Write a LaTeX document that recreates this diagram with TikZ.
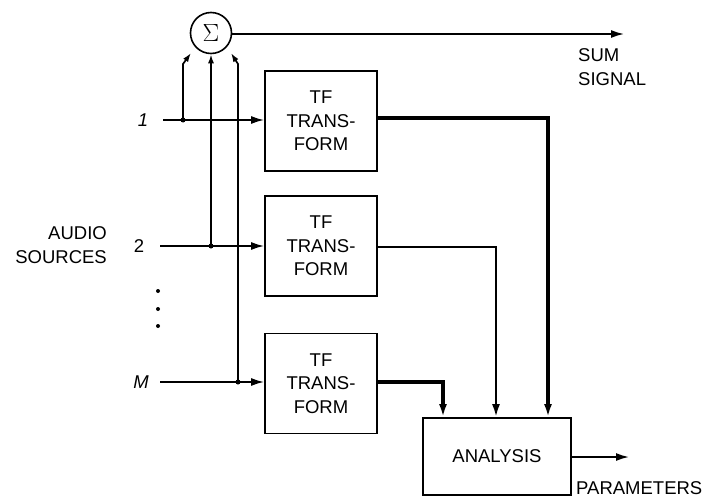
\documentclass[tikz,border=0pt]{standalone}
\usepackage{fontspec}
\setmainfont{Liberation Sans}
\usetikzlibrary{arrows.meta}
\begin{document}
\begin{tikzpicture}[x=1pt,y=-1pt,
  txt/.style={font=\fontsize{18.5}{23.5}\selectfont, align=center, inner sep=0pt},
  tfbox/.style={draw, line width=1.8pt, minimum width=112pt, minimum height=100pt, txt},
  ln/.style={line width=1.7pt},
  thickout/.style={line width=3.4pt},
  medout/.style={line width=2.3pt},
  arr/.style={-{Latex[length=13pt,width=8pt]}},
  sarr/.style={-{Latex[length=9pt,width=6pt]}},
  dotj/.style={circle, fill, inner sep=0pt, minimum size=5pt}]
\useasboundingbox (0,0) rectangle (711,503);
% sum circle
\node[draw, circle, line width=1.6pt, minimum size=41pt, inner sep=0pt] (sig) at (211,33) {\fontsize{28}{28}\selectfont$\Sigma$};
% boxes
\node[tfbox] (b1) at (321,121) {TF\\TRANS-\\FORM};
\node[tfbox] (b2) at (321,246) {TF\\TRANS-\\FORM};
\node[tfbox] (b3) at (321,383.5) {TF\\TRANS-\\FORM};
\node[draw, line width=1.8pt, minimum width=148pt, minimum height=77pt, txt] (an) at (497,456.5) {ANALYSIS};
% labels
\node[txt, anchor=east, align=right] (aud) at (107,245) {AUDIO\\SOURCES};
\node[txt] (l1) at (143,120) {\itshape 1};
\node[txt] (l2) at (139,246) {2};
\node[txt] (lm) at (141,382) {\itshape M};
\node[txt, anchor=west, align=left] (ss) at (578,67) {SUM\\SIGNAL};
\node[txt, anchor=west] (par) at (576,488) {PARAMETERS};
% dots
\foreach \yy in {291,309,326} \fill (158,\yy) circle (2pt);
% input start coordinates
\coordinate (s1) at (163,120);
\coordinate (s2) at (160,246);
\coordinate (sm) at (160,382);
\coordinate (j1) at (183,120);
\coordinate (j2) at (211,246);
\coordinate (jm) at (238,382);
\node[dotj] at (j1) {};
\node[dotj] at (j2) {};
\node[dotj] at (jm) {};
% inputs to boxes
\draw[ln, arr] (s1) -- (b1.west |- s1);
\draw[ln, arr] (s2) -- (b2.west |- s2);
\draw[ln, arr] (sm) -- (b3.west |- sm);
% to sigma
\coordinate (t1) at (191,53);
\coordinate (tm) at (231,53);
\draw[ln, sarr] (j1) -- (183,64) -- (t1);
\draw[ln, sarr] (j2) -- (sig.south);
\draw[ln, sarr] (jm) -- (238,64) -- (tm);
% sum out
\coordinate (so) at (624,34);
\draw[ln, arr] (sig.east |- so) -- (so);
% outputs
\draw[thickout, arr] (b1.east |- 0,118) -| (an.north -| 548,0);
\draw[medout, arr] (b2.east |- 0,247) -| (an.north -| 496,0);
\draw[thickout, arr] (b3.east |- 0,382) -| (an.north -| 443,0);
% parameters
\coordinate (po) at (629,457);
\draw[ln, arr] (an.east |- po) -- (po);
\end{tikzpicture}
\end{document}
